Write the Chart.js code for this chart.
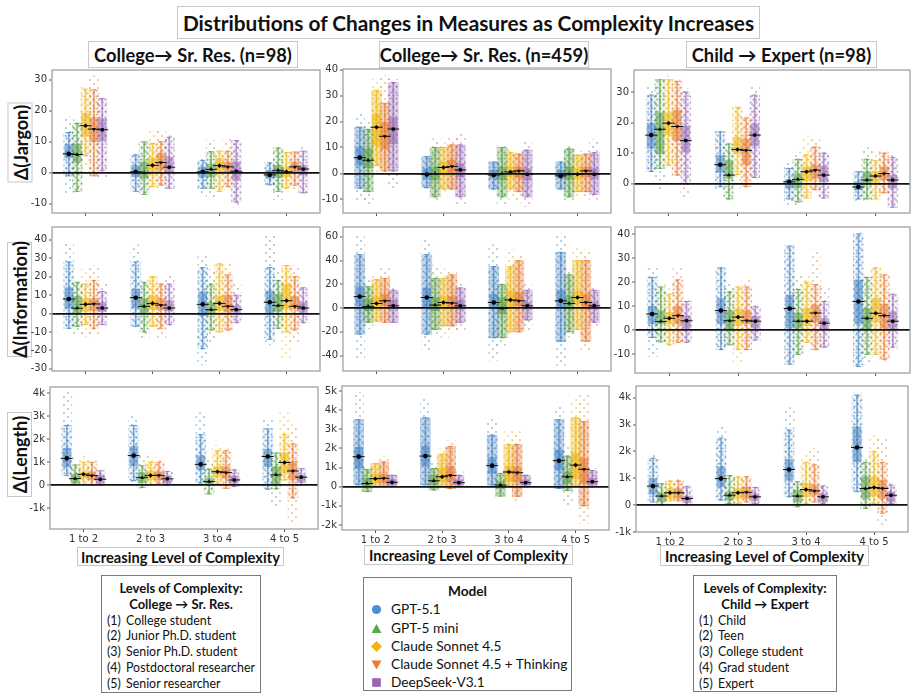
<!DOCTYPE html>
<html>
<head>
<meta charset="utf-8">
<title>Distributions of Changes in Measures as Complexity Increases</title>
<script src="https://cdn.jsdelivr.net/npm/chart.js@4.4.1/dist/chart.umd.min.js"></script>
<style>
  html, body { margin: 0; padding: 0; background: #fff; }
  body { position: relative; width: 918px; height: 699px; overflow: hidden; font-family: Lato, "Open Sans", "DejaVu Sans", sans-serif; color: #111; }
  .tbox { position: absolute; box-sizing: border-box; border: 1px solid #c8c8c8; background: #fff; display: flex; align-items: center; justify-content: center; font-weight: 700; white-space: nowrap; }
  .ylab { position: absolute; box-sizing: border-box; border: 1px solid #c8c8c8; display: flex; align-items: center; justify-content: center; font-weight: 700; font-size: 18px; white-space: nowrap; transform: rotate(-90deg); }
  canvas.panel { position: absolute; }
  .legend { position: absolute; box-sizing: border-box; border: 1px solid #7a7a7a; background: #fff; }
  .legend .hd { font-weight: 700; text-align: center; }
  .legend .it { white-space: nowrap; }
  .legend .n { display: inline-block; width: 19px; }
  .legend svg { vertical-align: -1px; margin-right: 9px; }
</style>
</head>
<body>
<div class="tbox" style="left:177px;top:6px;width:583px;height:33px;font-size:20.8px;">Distributions of Changes in Measures as Complexity Increases</div>
<div class="tbox" style="left:88px;top:41px;width:210px;height:27px;font-size:18.3px;">College→ Sr. Res. (n=98)</div>
<div class="tbox" style="left:379px;top:41px;width:210px;height:27px;font-size:18.3px;">College→ Sr. Res. (n=459)</div>
<div class="tbox" style="left:686px;top:41px;width:191px;height:27px;font-size:18.3px;">Child → Expert (n=98)</div>

<div class="ylab" style="left:-20px;top:130px;width:80px;height:25px;">Δ(Jargon)</div>
<div class="ylab" style="left:-38px;top:287px;width:115px;height:25px;">Δ(Information)</div>
<div class="ylab" style="left:-23px;top:442px;width:85px;height:25px;">Δ(Length)</div>

<div class="tbox" style="left:77px;top:547px;width:207px;height:19px;font-size:14.7px;">Increasing Level of Complexity</div>
<div class="tbox" style="left:364px;top:545px;width:209px;height:20px;font-size:14.7px;">Increasing Level of Complexity</div>
<div class="tbox" style="left:660px;top:545px;width:209px;height:21px;font-size:14.7px;">Increasing Level of Complexity</div>

<div class="legend" id="legLeft" style="left:101px;top:575px;width:160px;height:118px;font-size:12.4px;line-height:15.8px;padding:5px 0 0 5px;">
  <div class="hd" style="font-size:13px;margin-left:-5px;">Levels of Complexity:</div>
  <div class="hd" style="font-size:13px;margin-left:-5px;">College → Sr. Res.</div>
</div>
<div class="legend" id="legModel" style="left:363px;top:577px;width:209px;height:114px;font-size:13.7px;line-height:18.3px;padding:4px 0 0 7px;">
  <div class="hd" style="margin-left:-7px;">Model</div>
</div>
<div class="legend" id="legRight" style="left:693px;top:575px;width:144px;height:117px;font-size:12.4px;line-height:15.8px;padding:5px 0 0 5px;">
  <div class="hd" style="font-size:13px;margin-left:-5px;">Levels of Complexity:</div>
  <div class="hd" style="font-size:13px;margin-left:-5px;">Child → Expert</div>
</div>

<script>
const categories = ['1 to 2', '2 to 3', '3 to 4', '4 to 5'];
const models = ['GPT-5.1', 'GPT-5 mini', 'Claude Sonnet 4.5', 'Claude Sonnet 4.5 + Thinking', 'DeepSeek-V3.1'];
const levelsCollege = ['College student', 'Junior Ph.D. student', 'Senior Ph.D. student', 'Postdoctoral researcher', 'Senior researcher'];
const levelsChild = ['Child', 'Teen', 'College student', 'Grad student', 'Expert'];

// one row per model, one group per category: [min, whisker low, q1, median, q3, whisker high, max]
const jargonCollege98 = [
  [[-6.4, -1, 4.8, 6.1, 9.1, 13, 18], [-6, -6, -1.3, 0.3, 2.4, 5.8, 5.8], [-6.9, -5, -1.5, 0.3, 1.9, 4, 4.6], [-3.9, -3.9, -1.8, -0.7, 0.8, 3.2, 3.3]],
  [[-6, -6, 3.3, 5.9, 9.3, 16, 16], [-7, -7, -1.8, 0, 3.5, 10, 10], [-8.4, -5, -1.3, 1.1, 2.8, 6.8, 10.4], [-8.7, -6, -1.6, 0.8, 2.4, 8, 8.8]],
  [[0.8, 5.6, 11.8, 15.2, 19.2, 27, 28.3], [-4.8, -4.5, 0.3, 2.4, 4.8, 9.5, 14], [-6, -6, 0.1, 2.3, 4.6, 7, 7.2], [-5, -5, -1.3, 0.3, 1.9, 6.5, 6.7]],
  [[-1, -1, 10, 14.1, 17.8, 26.8, 31.3], [-4.8, -4, 0.8, 3.3, 6.2, 10, 13.5], [-4.8, -4.5, -0.2, 1.9, 3.5, 7, 11.1], [-5.5, -4, -0.2, 1.9, 3.5, 6.7, 6.7]],
  [[-1.8, 0.8, 10.4, 13.9, 17.5, 24, 24.2], [-5.2, -5, -0.2, 1.8, 5.1, 11.5, 12], [-11.1, -9.5, -2.3, 0.5, 3.5, 10.4, 10.4], [-6.6, -6.5, -0.7, 1.2, 2.4, 7, 8.3]]
];
const jargonCollege459 = [
  [[-10.2, -5.7, 3.2, 6.1, 10.2, 17.8, 22.9], [-5.7, -5.5, -1.9, -0.4, 1.9, 6.5, 6.7], [-6.3, -6, -1.9, -0.6, 1.3, 4.4, 4.4], [-6.3, -6, -1.9, -0.9, 1.3, 4.4, 4.4]],
  [[-11.8, -7, 2.2, 5.1, 9.5, 17, 20.3], [-10, -9, -2.5, 0, 2.5, 10, 13.3], [-12, -9, -2.5, 0, 2.5, 10, 10.8], [-10.8, -9, -2.2, -0.2, 2.5, 9.5, 11]],
  [[0.6, 3, 10.8, 17.8, 22.9, 32, 36.2], [-7.6, -6, -0.6, 2.3, 4.4, 10, 12.7], [-10, -6, -1.3, 0.6, 2.5, 8, 8.9], [-8.9, -7, -1.9, -0.3, 1.9, 7, 8.3]],
  [[0.6, 1, 9.5, 14.3, 19.7, 27, 37.7], [-6.3, -6, -0.4, 2.7, 5.1, 11, 13.6], [-11, -7, -1.6, 1, 2.5, 7.5, 7.6], [-8.9, -7, -1.3, 1, 2.5, 7.5, 8.5]],
  [[-5.7, 1, 11.4, 17.1, 21.6, 35, 36.2], [-12, -9, -1.3, 1.4, 3.8, 11, 15.6], [-12.7, -9, -2.5, -0.3, 1.9, 9, 12], [-10, -8, -1.9, -0.3, 1.9, 8, 13]]
];
const jargonChild98 = [
  [[3.9, 4, 11.6, 15.9, 19.8, 29, 32], [-1.7, -1, 3.7, 6.2, 9.2, 17, 17.8], [-7.1, -5, -1.5, 0.6, 1.2, 5, 7.1], [-5.8, -5, -2, -1.1, 0.6, 3.9, 3.9]],
  [[-1.7, 5, 9.8, 17.8, 23.2, 34, 34.5], [-5.3, -5, 1.7, 2.8, 7.6, 13, 13], [-7.4, -6, -1.3, 1.4, 3.3, 8, 10.3], [-5.3, -5, -0.4, 1.2, 3.9, 8, 11.9]],
  [[6, 6, 15.9, 19.8, 23.2, 34, 35.3], [-1.5, 3, 9.8, 11.2, 15.2, 25, 25.4], [-4.7, -4.7, 0.9, 3.9, 5.5, 9.5, 15.7], [-5.3, -5, 0.4, 2.5, 3.9, 7.5, 10.9]],
  [[2.8, 2.8, 14.1, 18.7, 24.1, 33.5, 34], [-1, -1, 6.2, 10.9, 14.6, 21.5, 21.9], [-2.4, -2, 1.7, 4.4, 6.2, 12, 14.4], [-3.1, -3, 1.2, 3.3, 5.5, 10, 10.3]],
  [[-4.4, 0, 10.3, 14.1, 18.9, 30, 31], [1.7, 2, 12.3, 15.9, 19.5, 29, 31.6], [-4.7, -4.7, 0.6, 2.8, 5.8, 10, 10.3], [-7.7, -7.7, -1.5, 1.2, 2.8, 8.6, 9.8]]
];
const infoCollege98 = [
  [[-8, -8, 2.9, 7.9, 14.1, 28, 38.2], [-7.3, -7, 2.9, 8.6, 13.2, 28, 37.3], [-27.9, -19, -1.1, 5, 11.8, 25, 31], [-17.1, -14, 0.4, 6.1, 12.3, 25, 43.2]],
  [[-11, -7, 0.4, 2.9, 9.3, 17, 17.1], [-14, -10, 0.4, 3.9, 8.2, 17, 17.1], [-16.3, -9, -0.2, 2.1, 6.1, 16, 24], [-8.2, -8, 1.1, 4.3, 10.5, 18, 23]],
  [[-12.7, -6, 1.1, 5, 8.2, 16, 24], [-7.3, -7, 2.1, 5.5, 9.6, 20, 20.4], [-10, -10, 1.6, 5.5, 9.3, 27, 27.1], [-24.3, -10, 2.5, 7, 15.9, 26, 26]],
  [[-12.1, -8, 1.4, 5.2, 8.2, 18, 26], [-13.9, -8, 2.1, 4.6, 8.2, 16, 16], [-10, -9, 0.7, 3.9, 10, 21, 27.1], [-15.4, -9, 2.5, 3.9, 9.3, 20, 26]],
  [[-6.4, -6, 1.1, 3, 6.1, 12, 17], [-7.3, -6, 1.4, 3, 7, 16, 20.4], [-5.5, -5, 0.7, 2.1, 4.3, 10, 15.9], [-5.5, -5, 0.7, 3, 6.1, 14, 14.1]]
];
const infoCollege459 = [
  [[-42.5, -22, 1.9, 9.7, 18, 45, 61.7], [-35.6, -22, 0.6, 8.9, 17, 45, 58], [-43.9, -25, -0.8, 4.7, 11.7, 35, 53.3], [-48, -28, -0.3, 6.1, 15, 47, 62.5]],
  [[-17.5, -12, -2.2, 1.4, 7.5, 18, 25.6], [-21.7, -18, -2.2, 2.5, 8.9, 25, 35.8], [-31.4, -25, -5, -0.3, 8.9, 20, 20], [-24.4, -20, -0.8, 3.9, 10.3, 28, 32.5]],
  [[-12, -11, -0.8, 3.9, 9.7, 24, 27], [-25.8, -15, -0.8, 4.7, 9.7, 25, 33], [-23, -20, 0.6, 6.9, 14.4, 35, 49.2], [-21.7, -18, 3.3, 8.9, 14.4, 40, 52]],
  [[-13.3, -12, 1.9, 6.1, 11.7, 25, 33.9], [-20.3, -15, -0.3, 4.2, 9.7, 28, 31], [-20.3, -20, 1.9, 6.1, 13, 40, 43.6], [-35.6, -28, -0.8, 4.7, 11.7, 40, 49]],
  [[-13.3, -12, -0.8, 1.9, 6.9, 15, 17.2], [-19.7, -12, -0.8, 1.9, 6.9, 17, 20], [-18.9, -10, -0.8, 1.9, 4.7, 15, 20], [-14.7, -12, -0.8, 1.9, 4.7, 15, 17.2]]
];
const infoChild98 = [
  [[-10.9, -3, 2.7, 6.8, 10, 22, 26.3], [-8.2, -8, 2.7, 8.2, 13.2, 26, 26], [-14, -14, 1, 9.1, 14.6, 35, 35.2], [-15, -15, 2.7, 12, 20.9, 40, 40.5]],
  [[-4.8, -4.8, 2.7, 3.7, 8.2, 18, 18.1], [-6.1, -6, 0.7, 4, 8.2, 16, 19.5], [-10.2, -10, 1, 3.8, 7.2, 17, 23.2], [-14, -10, 0.7, 5, 9.1, 22, 22.2]],
  [[-6.1, -6, 2.7, 5, 7.5, 15, 19.1], [-14, -8, 2, 5.5, 8.9, 18, 18.1], [-5.5, -5, 2, 3.8, 9.1, 20, 23.2], [-10.2, -10, 3.4, 7.1, 13.2, 26, 26.3]],
  [[-5.2, -5, 2.7, 6.1, 10, 21, 26.3], [-8.2, -8, 2.7, 4, 8.2, 18, 21.4], [-8.2, -8, 3.4, 7.2, 10.5, 19, 33.4], [-12.7, -12, 1, 6.1, 10.9, 23, 23.2]],
  [[-5.2, -5, 1, 4, 6.1, 12, 12.3], [-4.1, -4, 1, 3.8, 5.9, 10, 10], [-7.2, -7, 0, 3, 5, 12, 18.1], [-7.5, -7, 0.7, 3.8, 7.8, 15, 15]]
];
// length values in thousands
const lengthCollege98 = [
  [[0.41, 0.42, 0.81, 1.17, 1.61, 2.6, 4.03], [0.09, 0.2, 0.84, 1.29, 1.68, 2.6, 3.01], [0.01, 0.1, 0.67, 0.91, 1.28, 2.2, 3.16], [-0.17, -0.17, 0.81, 1.25, 1.57, 2.45, 2.91]],
  [[0.01, 0.02, 0.09, 0.29, 0.49, 0.88, 0.88], [-0.13, -0.1, 0.12, 0.33, 0.55, 0.85, 1.28], [-0.38, -0.38, 0.01, 0.16, 0.3, 0.7, 1.1], [-0.9, -0.15, 0.06, 0.45, 0.81, 1.4, 1.46]],
  [[0.01, 0.02, 0.3, 0.48, 0.59, 1.0, 1.28], [0.01, 0.01, 0.23, 0.43, 0.62, 1.0, 1.28], [0.09, 0.09, 0.35, 0.59, 0.81, 1.5, 1.75], [0.23, 0.23, 0.55, 0.99, 1.39, 2.2, 3.16]],
  [[0, 0, 0.23, 0.42, 0.59, 1.0, 1.07], [0.09, 0.09, 0.23, 0.43, 0.59, 1.0, 1.17], [-0.13, -0.13, 0.3, 0.55, 0.81, 1.5, 1.57], [-1.68, -0.55, 0.23, 0.62, 1.03, 1.8, 2.62]],
  [[0.01, 0.01, 0.09, 0.26, 0.45, 0.63, 0.67], [0.01, 0.01, 0.09, 0.28, 0.41, 0.6, 0.6], [-0.06, -0.06, 0.09, 0.23, 0.41, 0.67, 0.67], [0.01, 0.02, 0.12, 0.35, 0.45, 0.72, 0.74]]
];
const lengthCollege459 = [
  [[0.09, 0.1, 0.96, 1.57, 2.06, 3.5, 4.91], [0.09, 0.1, 1.08, 1.6, 2.13, 3.6, 4.56], [0.09, 0.09, 0.7, 1.1, 1.53, 2.7, 3.52], [-0.09, -0.09, 0.87, 1.36, 1.92, 3.5, 4.18]],
  [[-0.26, -0.26, 0, 0.17, 0.44, 0.9, 1.01], [-0.17, -0.17, 0.09, 0.31, 0.61, 0.95, 1.22], [-0.49, -0.49, -0.09, 0.09, 0.26, 0.7, 0.78], [-0.96, -0.2, 0.17, 0.52, 0.78, 1.6, 2.13]],
  [[0.03, 0.03, 0.17, 0.42, 0.66, 1.2, 1.31], [0, 0, 0.26, 0.52, 0.96, 1.7, 2.0], [0.03, 0.03, 0.26, 0.77, 1.08, 2.2, 2.96], [0.03, 0.03, 0.44, 1.13, 1.74, 3.6, 4.56]],
  [[0, 0, 0.21, 0.44, 0.66, 1.3, 1.57], [-0.14, -0.1, 0.26, 0.59, 1.05, 2.1, 2.4], [-0.78, -0.5, 0.26, 0.73, 1.05, 2.2, 2.87], [-1.92, -1.0, 0.17, 0.91, 1.48, 3.4, 4.84]],
  [[0, 0, 0.09, 0.23, 0.38, 0.6, 0.61], [0, 0, 0.09, 0.21, 0.35, 0.6, 0.78], [0, 0, 0.09, 0.21, 0.35, 0.6, 0.66], [0, 0, 0.14, 0.26, 0.44, 0.85, 0.96]]
];
const lengthChild98 = [
  [[0.12, 0.12, 0.41, 0.71, 0.99, 1.75, 1.93], [0.19, 0.19, 0.68, 0.99, 1.43, 2.5, 2.92], [0.31, 0.31, 0.93, 1.33, 1.7, 2.8, 3.64], [0.5, 0.5, 1.61, 2.15, 2.92, 4.1, 4.19]],
  [[0, 0, 0.12, 0.34, 0.46, 0.8, 0.81], [0.06, 0.06, 0.19, 0.37, 0.5, 1.1, 1.12], [-0.06, -0.06, 0.12, 0.34, 0.56, 0.87, 0.87], [-0.12, -0.12, 0.25, 0.62, 1.06, 1.6, 1.74]],
  [[0.16, 0.16, 0.25, 0.46, 0.62, 0.9, 0.93], [0.06, 0.06, 0.25, 0.46, 0.62, 1.05, 1.08], [0.06, 0.06, 0.31, 0.58, 0.81, 1.6, 1.86], [0.06, 0.06, 0.34, 0.66, 1.06, 2.0, 2.67]],
  [[0.16, 0.16, 0.25, 0.46, 0.62, 0.9, 1.03], [0.12, 0.12, 0.25, 0.48, 0.68, 1.06, 1.06], [0.12, 0.12, 0.37, 0.53, 0.75, 1.5, 2.11], [-0.75, -0.3, 0.25, 0.62, 0.93, 1.6, 2.48]],
  [[0, 0, 0.09, 0.25, 0.34, 0.7, 0.75], [0.06, 0.06, 0.16, 0.31, 0.43, 0.66, 0.68], [0.06, 0.06, 0.12, 0.31, 0.43, 0.72, 0.75], [0.06, 0.06, 0.12, 0.37, 0.5, 0.75, 0.81]]
];

const ticksJargonA = [-10, 0, 10, 20, 30];
const ticksJargonB = [-10, 0, 10, 20, 30, 40];
const ticksJargonC = [0, 10, 20, 30];
const ticksInfoA = [-30, -20, -10, 0, 10, 20, 30, 40];
const ticksInfoB = [-40, -20, 0, 20, 40, 60];
const ticksInfoC = [-10, 0, 10, 20, 30, 40];
const ticksLengthA = [-1, 0, 1, 2, 3, 4];
const ticksLengthB = [-2, -1, 0, 1, 2, 3, 4, 5];
const ticksLengthC = [-1, 0, 1, 2, 3, 4];

// styles
const modelRgb = ['58,124,189', '78,150,58', '236,176,0', '226,112,36', '146,96,176'];
const legendColors = ['#4a90d9', '#5aa845', '#f5b400', '#ee7b2f', '#9b62b5'];
const offsets = [-0.25, -0.125, 0, 0.125, 0.25];
const shapes = ['circle', 'triangle', 'rectRot', 'triangle', 'rect'];

// layout: chart area rectangles [left, top, right, bottom] in page pixels, haze = cloud fill strength
const panels = [
  { data: jargonCollege98, ticks: ticksJargonA, min: -13, max: 33.2, rect: [52, 70, 321, 215], haze: 0.08 },
  { data: jargonCollege459, ticks: ticksJargonB, min: -15.2, max: 40.2, rect: [343, 69, 612, 215], haze: 0.3 },
  { data: jargonChild98, ticks: ticksJargonC, min: -9.6, max: 37.2, rect: [634, 70, 911, 215], haze: 0.08 },
  { data: infoCollege98, ticks: ticksInfoA, min: -31.2, max: 47, rect: [52, 227, 321, 373], haze: 0.08 },
  { data: infoCollege459, ticks: ticksInfoB, min: -53, max: 68.3, rect: [343, 227, 612, 373], haze: 0.3 },
  { data: infoChild98, ticks: ticksInfoC, min: -17.7, max: 42.9, rect: [635, 227, 911, 375], haze: 0.08 },
  { data: lengthCollege98, ticks: ticksLengthA, min: -1.9, max: 4.27, rect: [50, 387, 319, 529], haze: 0.08, k: true, bottom: true },
  { data: lengthCollege459, ticks: ticksLengthB, min: -2.26, max: 5.26, rect: [342, 386, 610, 530], haze: 0.3, k: true, bottom: true },
  { data: lengthChild98, ticks: ticksLengthC, min: -1.0, max: 4.44, rect: [636, 386, 909, 532], haze: 0.08, k: true, bottom: true }
];

Chart.defaults.font.family = '"DejaVu Sans", sans-serif';

function dotPattern(rgb, step, alpha, r) {
  const c = document.createElement('canvas');
  c.width = step * 2;
  c.height = step * 2;
  const g = c.getContext('2d');
  g.fillStyle = `rgba(${rgb},${alpha})`;
  [[step / 2, step / 2], [step * 1.5, step * 1.5]].forEach(([x, y]) => {
    g.beginPath();
    g.arc(x, y, r, 0, Math.PI * 2);
    g.fill();
  });
  return g.createPattern(c, 'repeat');
}
const sparse = modelRgb.map(rgb => dotPattern(rgb, 4, 0.45, 1.1));
const dense = modelRgb.map(rgb => dotPattern(rgb, 3, 0.55, 1.1));

const framePlugin = {
  id: 'frame',
  afterDraw(chart) {
    const { ctx, chartArea: a } = chart;
    ctx.save();
    ctx.strokeStyle = '#a0a0a0';
    ctx.lineWidth = 1.3;
    ctx.strokeRect(a.left, a.top, a.right - a.left, a.bottom - a.top);
    ctx.restore();
  }
};

function fmt(v, k) {
  if (!k) return String(v);
  return v === 0 ? '0' : v + 'k';
}

function drawPanel(p) {
  const yw = 44, pt = 8, pr = 6, xh = p.bottom ? 22 : 6;
  const [L, T, R, B] = p.rect;
  const cv = document.createElement('canvas');
  cv.className = 'panel';
  cv.width = R - L + yw + pr;
  cv.height = B - T + pt + xh;
  cv.style.left = (L - yw) + 'px';
  cv.style.top = (T - pt) + 'px';
  document.body.appendChild(cv);

  const datasets = [];
  p.data.forEach((rows, m) => {
    const rgb = modelRgb[m];
    const at = f => rows.map((g, i) => ({ x: i + offsets[m], y: f(g) }));
    const bar = (f, color, w, order) => ({
      type: 'bar', data: at(f), backgroundColor: color, barThickness: w,
      grouped: false, borderWidth: 0, order
    });
    // strip of points: sparse dots over full range, denser haze inside the whiskers
    datasets.push(bar(g => [g[0], g[6]], sparse[m], 10, 50));
    datasets.push(bar(g => [g[1], g[5]], `rgba(${rgb},${p.haze})`, 10, 45));
    datasets.push(bar(g => [g[1], g[5]], dense[m], 10, 40));
    // box
    datasets.push(bar(g => [g[2], g[4]], `rgba(${rgb},0.5)`, 8, 30));
    // whiskers and caps
    datasets.push(bar(g => [g[1], g[5]], `rgba(${rgb},0.6)`, 1, 20));
    datasets.push({
      type: 'scatter', data: at(g => g[1]).concat(at(g => g[5])), showLine: false,
      pointStyle: 'line', pointRadius: 2.5, pointBorderColor: `rgba(${rgb},0.7)`, pointBorderWidth: 1, order: 15
    });
    // median line and marker
    datasets.push({
      type: 'scatter', data: at(g => g[3]), showLine: false,
      pointStyle: 'line', pointRadius: 6, pointBorderColor: '#111', pointBorderWidth: 1, order: 5
    });
    datasets.push({
      type: 'scatter', data: at(g => g[3]), showLine: false,
      pointStyle: shapes[m], pointRotation: m === 3 ? 180 : 0, pointRadius: 2.3,
      pointBackgroundColor: '#000', pointBorderColor: '#000', pointBorderWidth: 0, order: 1
    });
  });

  new Chart(cv, {
    type: 'bar',
    data: { datasets },
    options: {
      responsive: false,
      animation: false,
      events: [],
      layout: { padding: { top: pt, right: pr, left: 0, bottom: 0 } },
      plugins: { legend: { display: false }, tooltip: { enabled: false } },
      scales: {
        x: {
          type: 'linear', min: -0.5, max: 3.5, offset: false,
          afterBuildTicks: s => { s.ticks = categories.map((c, i) => ({ value: i })); },
          afterFit: s => { s.height = xh; },
          ticks: {
            autoSkip: false, maxRotation: 0, padding: 1, color: '#333', font: { size: 10 },
            callback: v => (p.bottom ? categories[v] : '')
          },
          grid: { offset: false, drawOnChartArea: false, tickLength: 3, tickColor: '#555' },
          border: { display: false }
        },
        y: {
          type: 'linear', min: p.min, max: p.max,
          afterBuildTicks: s => { s.ticks = p.ticks.map(v => ({ value: v })); },
          afterFit: s => { s.width = yw; },
          ticks: { padding: 2, color: '#333', font: { size: 10 }, callback: v => fmt(v, p.k) },
          grid: {
            z: 1,
            color: c => (c.tick && c.tick.value === 0 ? '#111' : 'rgba(0,0,0,0)'),
            lineWidth: c => (c.tick && c.tick.value === 0 ? 1.8 : 0),
            tickLength: 3, tickColor: '#555', tickWidth: 1
          },
          border: { display: false }
        }
      }
    },
    plugins: [framePlugin]
  });
}

panels.forEach(drawPanel);

// legends
function addLevels(id, levels) {
  const box = document.getElementById(id);
  levels.forEach((t, i) => {
    const d = document.createElement('div');
    d.className = 'it';
    d.innerHTML = `<span class="n">(${i + 1})</span>${t}`;
    box.appendChild(d);
  });
}
addLevels('legLeft', levelsCollege);
addLevels('legRight', levelsChild);

const markerSvg = [
  c => `<circle cx="5.5" cy="5.5" r="4.6" fill="${c}"/>`,
  c => `<polygon points="5.5,1 10.5,10 0.5,10" fill="${c}"/>`,
  c => `<polygon points="5.5,0 11,5.5 5.5,11 0,5.5" fill="${c}"/>`,
  c => `<polygon points="0.5,1.5 10.5,1.5 5.5,10.5" fill="${c}"/>`,
  c => `<rect x="1.2" y="1.2" width="8.6" height="8.6" fill="${c}"/>`
];
const legModel = document.getElementById('legModel');
models.forEach((name, m) => {
  const d = document.createElement('div');
  d.className = 'it';
  d.innerHTML = `<svg width="11" height="11">${markerSvg[m](legendColors[m])}</svg>${name}`;
  legModel.appendChild(d);
});
</script>
</body>
</html>
